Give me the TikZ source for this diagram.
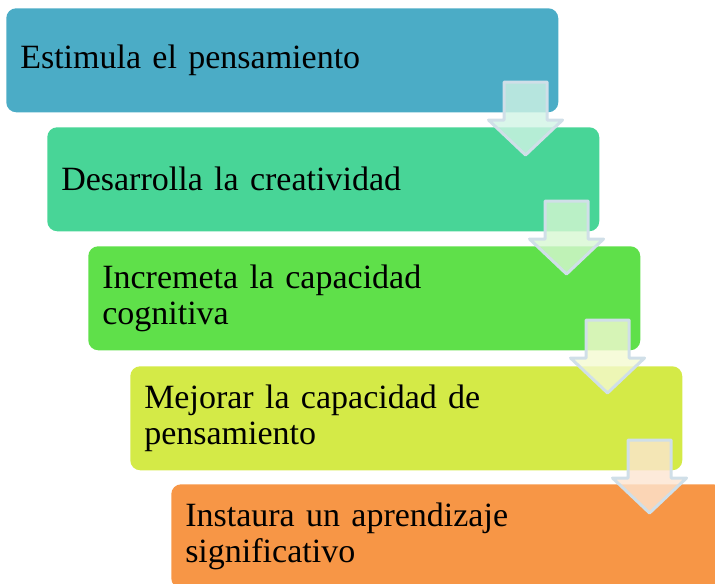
\documentclass[tikz,border=0pt]{standalone}
\usepackage{fontspec}
\setmainfont{Liberation Serif}
\usetikzlibrary{positioning}
\definecolor{stepblue}{HTML}{4BACC6}
\definecolor{stepteal}{HTML}{48D597}
\definecolor{stepgreen}{HTML}{5FE04A}
\definecolor{steplime}{HTML}{D4EA47}
\definecolor{steporange}{HTML}{F79646}
\definecolor{arrowrim}{HTML}{D0DFE8}
\tikzset{
  stepbox/.style={rectangle, rounded corners=7.5pt, draw=none, fill=#1,
    anchor=north west, text width=393pt, inner xsep=10.5pt, inner ysep=0pt,
    minimum height=78pt, align=left, font=\fontsize{25.5}{26.8}\selectfont},
  downarrow/.style={draw=arrowrim, line width=2.25pt, line join=round,
    fill=#1!25!white, fill opacity=0.8}
}
% block arrow below the right end of a box
\newcommand{\stepdown}[2]{%
  \begin{scope}[shift={(#1.north east)}]
    \draw[downarrow=#2] (-54.5,74) -- (-11.5,74) -- (-11.5,112) -- (4,112)
      -- (-33,147) -- (-70,112) -- (-54.5,112) -- cycle;
  \end{scope}}
\begin{document}
\begin{tikzpicture}[x=0.75pt, y=-0.75pt]
  \useasboundingbox (0,0) rectangle (715,583);
  \clip (0,0) rectangle (715,583);
  \node[stepbox=stepblue] (estimula) at (6,8) {Estimula el pensamiento};
  \node[stepbox=stepteal] (desarrolla) at (47,127) {Desarrolla la creatividad};
  \node[stepbox=stepgreen] (incremeta) at (88,246) {Incremeta la capacidad\\cognitiva};
  \node[stepbox=steplime] (mejorar) at (130,366) {Mejorar la capacidad de\\pensamiento};
  \node[stepbox=steporange] (instaura) at (171,484) {Instaura un aprendizaje\\significativo};
  \stepdown{estimula}{stepteal}
  \stepdown{desarrolla}{stepgreen}
  \stepdown{incremeta}{steplime}
  \stepdown{mejorar}{steporange}
\end{tikzpicture}
\end{document}
